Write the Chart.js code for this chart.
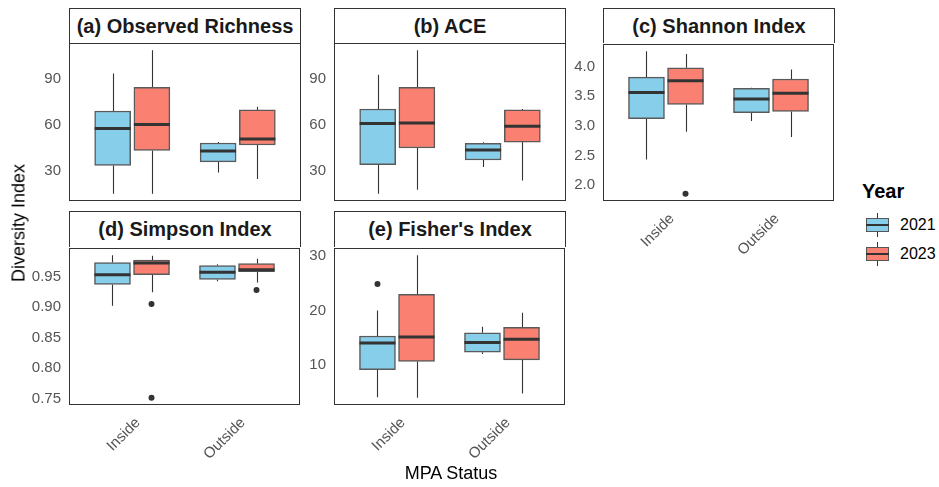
<!DOCTYPE html>
<html>
<head>
<meta charset="utf-8">
<script src="https://cdn.jsdelivr.net/npm/chart.js@4/dist/chart.umd.min.js"></script>
<style>
  html, body { margin: 0; padding: 0; background: #fff; }
  body { width: 939px; height: 487px; position: relative; overflow: hidden;
         font-family: "Liberation Sans", Arial, sans-serif; }
  .wrap { position: absolute; line-height: 0; }
  .strip { position: absolute; box-sizing: border-box; border: 1px solid #333; border-bottom: none;
           background: #fff; font-weight: bold; font-size: 20px; color: #1a1a1a;
           display: flex; align-items: center; justify-content: center; white-space: nowrap; }
  .axis-title { position: absolute; font-size: 18px; color: #000; white-space: nowrap; }
  .legend-title { position: absolute; font-size: 20px; font-weight: bold; color: #000; }
  .legend-label { position: absolute; font-size: 16px; color: #000; }
  .key { position: absolute; width: 23px; height: 24px; }
  .key .stub { position: absolute; left: 11px; width: 1px; background: #333; }
  .key .box { position: absolute; left: 0; top: 5px; width: 23px; height: 14px; box-sizing: border-box;
              border: 1.5px solid #555; }
  .key .med { position: absolute; left: 0; top: 11px; width: 23px; height: 2px; background: #333; }
</style>
</head>
<body>
<script>
// ---- data -------------------------------------------------------------
const groups = ['Inside', 'Outside'];
const years = ['2021', '2023'];

// per MPA group: [lower whisker, Q1, median, Q3, upper whisker]
const richness2021 = [[14.7, 33.2, 57.3, 68.8, 93.3], [28.7, 35.6, 42.6, 47.9, 48.5]];
const richness2023 = [[14.7, 43.0, 60.0, 84.3, 108.5], [24.3, 46.6, 50.5, 69.5, 71.5]];
const ace2021 = [[14.7, 33.7, 60.7, 70.1, 92.4], [32.2, 36.8, 43.3, 47.6, 48.3]];
const ace2023 = [[17.3, 44.6, 61.0, 84.3, 108.5], [23.4, 48.5, 58.8, 69.5, 70.1]];
const shannon2021 = [[2.43, 3.12, 3.56, 3.82, 4.26], [3.08, 3.22, 3.45, 3.63, 3.64]];
const shannon2023 = [[2.90, 3.36, 3.76, 3.98, 4.21], [2.81, 3.24, 3.55, 3.79, 3.95]];
const simpson2021 = [[0.902, 0.937, 0.953, 0.973, 0.985], [0.942, 0.945, 0.957, 0.968, 0.970]];
const simpson2023 = [[0.924, 0.953, 0.972, 0.977, 0.984], [0.940, 0.958, 0.961, 0.971, 0.979]];
const fisher2021 = [[4.0, 9.1, 14.0, 15.3, 20.0], [12.0, 12.3, 14.1, 15.9, 17.0]];
const fisher2023 = [[3.9, 10.6, 15.1, 23.0, 30.2], [4.7, 10.9, 14.7, 16.9, 19.6]];

// points beyond the whiskers, per MPA group
const noOutliers = [[], []];
const shannonOut2023 = [[1.85], []];
const simpsonOut2023 = [[0.905, 0.751], [0.928]];
const fisherOut2021 = [[24.9], []];

// y tick labels
const richnessTicks = ['30', '60', '90'];
const aceTicks = ['30', '60', '90'];
const shannonTicks = ['2.0', '2.5', '3.0', '3.5', '4.0'];
const simpsonTicks = ['0.75', '0.80', '0.85', '0.90', '0.95'];
const fisherTicks = ['10', '20', '30'];

// ---- styling ----------------------------------------------------------
const fills = ['#87CEEB', '#FA8072'];
const dodge = [-0.186, 0.186];
const boxWidth = 36;
const tickColor = '#555';
const FONT = '"Liberation Sans", Arial, sans-serif';
const AXIS_W = 50, XLAB_H = 62, PAD = 2;

// whiskers under the boxes, medians over them, panel frame on top
const boxplotPlugin = {
  id: 'boxplotParts',
  beforeDatasetsDraw(chart) {
    const ctx = chart.ctx, ys = chart.scales.y;
    ctx.save();
    ctx.strokeStyle = '#333';
    ctx.lineWidth = 1.1;
    chart.data.datasets.forEach((ds, di) => {
      if (!ds.stats) return;
      const meta = chart.getDatasetMeta(di);
      meta.data.forEach((el, i) => {
        const s = ds.stats[i];
        const x = Math.round(el.x) + 0.5;
        ctx.beginPath();
        ctx.moveTo(x, ys.getPixelForValue(s[0]));
        ctx.lineTo(x, ys.getPixelForValue(s[1]));
        ctx.moveTo(x, ys.getPixelForValue(s[3]));
        ctx.lineTo(x, ys.getPixelForValue(s[4]));
        ctx.stroke();
      });
    });
    ctx.restore();
  },
  afterDatasetsDraw(chart) {
    const ctx = chart.ctx, ys = chart.scales.y;
    ctx.save();
    ctx.strokeStyle = '#333';
    ctx.lineWidth = 3;
    chart.data.datasets.forEach((ds, di) => {
      if (!ds.stats) return;
      const meta = chart.getDatasetMeta(di);
      meta.data.forEach((el, i) => {
        const y = ys.getPixelForValue(ds.stats[i][2]);
        ctx.beginPath();
        ctx.moveTo(el.x - el.width / 2, y);
        ctx.lineTo(el.x + el.width / 2, y);
        ctx.stroke();
      });
    });
    ctx.restore();
  },
  afterDraw(chart) {
    const a = chart.chartArea, ctx = chart.ctx;
    ctx.save();
    ctx.strokeStyle = '#333';
    ctx.lineWidth = 1;
    ctx.strokeRect(Math.round(a.left) + 0.5, Math.round(a.top) + 0.5,
                   Math.round(a.right - a.left) - 1, Math.round(a.bottom - a.top) - 1);
    ctx.restore();
  }
};

function addText(cls, text, css) {
  const d = document.createElement('div');
  d.className = cls;
  d.textContent = text;
  Object.assign(d.style, css);
  document.body.appendChild(d);
  return d;
}

function panel(title, box, statsByYear, outByYear, tickLabels, showX) {
  // strip label above the panel; its lower edge is the panel frame
  addText('strip', title, {
    left: box.left + 'px', top: box.stripTop + 'px',
    width: box.width + 'px', height: (box.top - box.stripTop) + 'px'
  });

  const wrap = document.createElement('div');
  wrap.className = 'wrap';
  const cw = AXIS_W + box.width + PAD;
  const ch = box.height + PAD + (showX ? XLAB_H : PAD);
  Object.assign(wrap.style, { left: (box.left - AXIS_W) + 'px', top: (box.top - PAD) + 'px',
                              width: cw + 'px', height: ch + 'px' });
  const cv = document.createElement('canvas');
  cv.width = cw; cv.height = ch;
  cv.style.width = cw + 'px'; cv.style.height = ch + 'px';
  wrap.appendChild(cv);
  document.body.appendChild(wrap);

  // y range: data extent padded by 5% each side
  let lo = Infinity, hi = -Infinity;
  statsByYear.forEach(st => st.forEach(s => { lo = Math.min(lo, s[0]); hi = Math.max(hi, s[4]); }));
  outByYear.forEach(o => o.forEach(g => g.forEach(v => { lo = Math.min(lo, v); hi = Math.max(hi, v); })));
  const span = hi - lo;

  const datasets = [];
  years.forEach((yr, k) => {
    datasets.push({
      type: 'bar', label: yr, stats: statsByYear[k],
      data: groups.map((g, i) => ({ x: i + 1 + dodge[k], y: [statsByYear[k][i][1], statsByYear[k][i][3]] })),
      backgroundColor: fills[k], borderColor: '#5a5a5a', borderWidth: 1.5, borderSkipped: false,
      barThickness: boxWidth, grouped: false
    });
  });
  years.forEach((yr, k) => {
    const pts = [];
    groups.forEach((g, i) => outByYear[k][i].forEach(v => pts.push({ x: i + 1 + dodge[k], y: v })));
    if (pts.length) datasets.push({
      type: 'scatter', label: yr + ' outliers', data: pts,
      pointRadius: 3, pointBackgroundColor: '#333', pointBorderWidth: 0, pointHoverRadius: 3
    });
  });

  new Chart(cv, {
    type: 'bar',
    data: { datasets },
    plugins: [boxplotPlugin],
    options: {
      responsive: false, maintainAspectRatio: false, animation: false, devicePixelRatio: 1,
      layout: { padding: { top: PAD, right: PAD, bottom: showX ? 0 : PAD, left: 0 } },
      plugins: { legend: { display: false }, tooltip: { enabled: false }, title: { display: false } },
      scales: {
        x: {
          type: 'linear', min: 0.4, max: groups.length + 0.6, offset: false,
          display: showX,
          grid: { display: false, drawTicks: false }, border: { display: false },
          afterBuildTicks: s => { s.ticks = groups.map((g, i) => ({ value: i + 1 })); },
          afterFit: s => {
            s.height = showX ? XLAB_H : 0;
            s.paddingLeft = 0; s.paddingRight = 0; s.paddingTop = 0; s.paddingBottom = 0;
          },
          ticks: {
            autoSkip: false, minRotation: 45, maxRotation: 45, padding: 9, labelOffset: 6,
            color: tickColor, font: { family: FONT, size: 15 },
            callback: (v, i) => groups[i]
          }
        },
        y: {
          type: 'linear', min: lo - span * 0.05, max: hi + span * 0.05,
          grid: { display: false, drawTicks: false }, border: { display: false },
          afterBuildTicks: s => { s.ticks = tickLabels.map(t => ({ value: parseFloat(t) })); },
          afterFit: s => {
            s.width = AXIS_W;
            s.paddingLeft = 0; s.paddingRight = 0; s.paddingTop = 0; s.paddingBottom = 0;
          },
          ticks: {
            padding: 8, color: tickColor, font: { family: FONT, size: 15 },
            callback: (v, i) => tickLabels[i]
          }
        }
      }
    }
  });
}

const W = 232;
panel('(a) Observed Richness', { left: 69, stripTop: 8, top: 43, width: W, height: 158 },
      [richness2021, richness2023], [noOutliers, noOutliers], richnessTicks, false);
panel('(b) ACE', { left: 334, stripTop: 8, top: 43, width: W, height: 158 },
      [ace2021, ace2023], [noOutliers, noOutliers], aceTicks, false);
panel('(c) Shannon Index', { left: 603, stripTop: 8, top: 43, width: W, height: 158 },
      [shannon2021, shannon2023], [noOutliers, shannonOut2023], shannonTicks, true);
panel('(d) Simpson Index', { left: 69, stripTop: 211, top: 247, width: W, height: 158 },
      [simpson2021, simpson2023], [noOutliers, simpsonOut2023], simpsonTicks, true);
panel("(e) Fisher's Index", { left: 334, stripTop: 211, top: 247, width: W, height: 158 },
      [fisher2021, fisher2023], [fisherOut2021, noOutliers], fisherTicks, true);

// axis titles
addText('axis-title', 'MPA Status', { left: '451px', top: '473px', transform: 'translate(-50%, -50%)' });
addText('axis-title', 'Diversity Index', { left: '19px', top: '223px', transform: 'translate(-50%, -50%) rotate(-90deg)' });

// legend
addText('legend-title', 'Year', { left: '862px', top: '180px' });
years.forEach((yr, k) => {
  const top = 213 + k * 28.5;
  const key = document.createElement('div');
  key.className = 'key';
  Object.assign(key.style, { left: '866px', top: top + 'px' });
  key.innerHTML = '<div class="stub" style="top:0;height:5px"></div>' +
    '<div class="box" style="background:' + fills[k] + '"></div>' +
    '<div class="med"></div>' +
    '<div class="stub" style="top:19px;height:5px"></div>';
  document.body.appendChild(key);
  addText('legend-label', yr, { left: '900px', top: (top + 12) + 'px', transform: 'translateY(-50%)' });
});
</script>
</body>
</html>
